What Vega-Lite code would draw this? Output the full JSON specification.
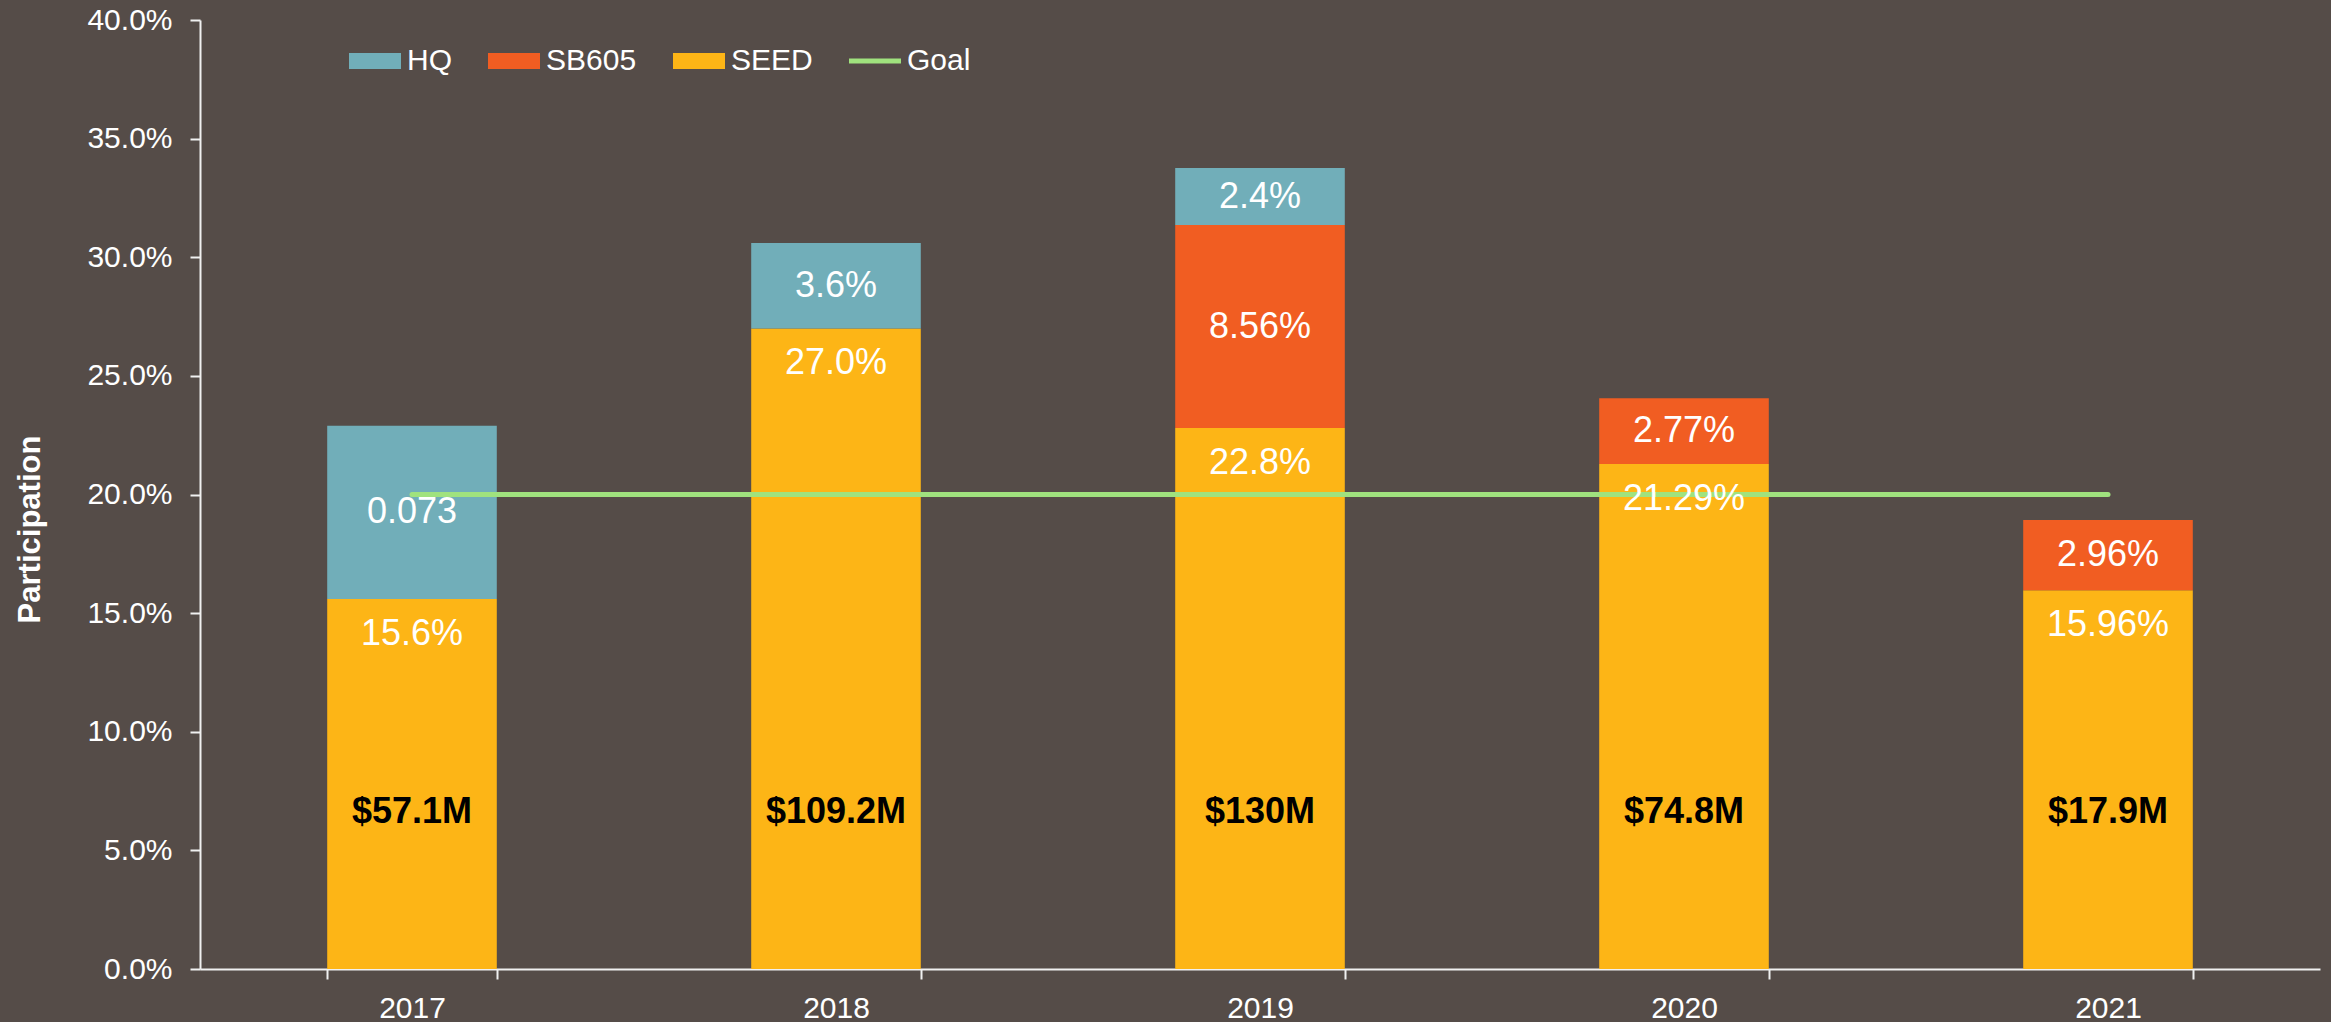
{
  "$schema": "https://vega.github.io/schema/vega-lite/v6.json",
  "autosize": {"type": "none"},
  "padding": {"left": 200, "top": 20, "right": 11, "bottom": 53},
  "width": 2120,
  "height": 949,
  "background": "#554C48",
  "config": {
    "view": {"stroke": null},
    "font": "Liberation Sans",
    "axis": {"grid": false, "domainColor": "#F0F0F0", "tickColor": "#F0F0F0", "domainWidth": 2, "tickWidth": 2, "labelColor": "#FFFFFF", "labelFontSize": 30, "labelFont": "Liberation Sans"}
  },
  "datasets": {
    "segments": [
      {"year": "2017", "series": "SEED", "value": 0.156, "label": "15.6%"},
      {"year": "2017", "series": "HQ", "value": 0.073, "label": "0.073"},
      {"year": "2018", "series": "SEED", "value": 0.270, "label": "27.0%"},
      {"year": "2018", "series": "HQ", "value": 0.036, "label": "3.6%"},
      {"year": "2019", "series": "SEED", "value": 0.228, "label": "22.8%"},
      {"year": "2019", "series": "SB605", "value": 0.0856, "label": "8.56%"},
      {"year": "2019", "series": "HQ", "value": 0.024, "label": "2.4%"},
      {"year": "2020", "series": "SEED", "value": 0.2129, "label": "21.29%"},
      {"year": "2020", "series": "SB605", "value": 0.0277, "label": "2.77%"},
      {"year": "2021", "series": "SEED", "value": 0.1596, "label": "15.96%"},
      {"year": "2021", "series": "SB605", "value": 0.0296, "label": "2.96%"}
    ],
    "funding": [
      {"year": "2017", "amount": "$57.1M"},
      {"year": "2018", "amount": "$109.2M"},
      {"year": "2019", "amount": "$130M"},
      {"year": "2020", "amount": "$74.8M"},
      {"year": "2021", "amount": "$17.9M"}
    ],
    "goal": [
      {"year": "2017", "goal": 0.2},
      {"year": "2018", "goal": 0.2},
      {"year": "2019", "goal": 0.2},
      {"year": "2020", "goal": 0.2},
      {"year": "2021", "goal": 0.2}
    ]
  },
  "encoding": {
    "x": {
      "field": "year", "type": "ordinal",
      "scale": {"domain": ["2017", "2018", "2019", "2020", "2021"], "paddingInner": 0.6, "paddingOuter": 0.3},
      "axis": {"title": null, "labelAngle": 0, "tickBand": "extent", "tickSize": 10, "labelPadding": 14}
    }
  },
  "layer": [
    {
      "data": {"name": "segments"},
      "transform": [
        {"calculate": "indexof(['SEED','SB605','HQ'], datum.series)", "as": "ord"},
        {"stack": "value", "groupby": ["year"], "sort": [{"field": "ord", "order": "ascending"}], "as": ["v0", "v1"]}
      ],
      "mark": {"type": "bar"},
      "encoding": {
        "y": {
          "field": "v1", "type": "quantitative",
          "scale": {"domain": [0, 0.4], "nice": false, "zero": true},
          "axis": {
            "values": [0, 0.05, 0.1, 0.15, 0.2, 0.25, 0.3, 0.35, 0.4],
            "format": ".1%", "tickSize": 10, "labelPadding": 18,
            "title": "Participation", "titleColor": "#FFFFFF", "titleFontSize": 31, "titleFontWeight": "bold",
            "titleAngle": -90, "titleAlign": "center", "titleBaseline": "middle", "titleX": -170, "titleY": 509
          }
        },
        "y2": {"field": "v0"},
        "color": {
          "field": "series", "type": "nominal",
          "scale": {"domain": ["HQ", "SB605", "SEED", "Goal"], "range": ["#71AEB9", "#F15D22", "#FDB516", "#A0E27E"]},
          "legend": {
            "title": null, "orient": "none", "direction": "horizontal", "columns": 4,
            "legendX": 149, "legendY": 15,
            "labelColor": "#FFFFFF", "labelFontSize": 30, "labelOffset": 6, "columnPadding": 36,
            "symbolSize": 2704,
            "encode": {
              "symbols": {
                "update": {
                  "shape": {"signal": "datum.label === 'Goal' ? 'M-1,-0.1H1V0.1H-1Z' : 'M-1,-0.3077H1V0.3077H-1Z'"},
                  "fill": {"signal": "scale('color', datum.value)"},
                  "strokeWidth": {"value": 0},
                  "opacity": {"value": 1}
                }
              }
            }
          }
        }
      }
    },
    {
      "data": {"name": "goal"},
      "mark": {"type": "line", "strokeWidth": 5, "strokeCap": "round"},
      "encoding": {
        "y": {"field": "goal", "type": "quantitative"},
        "color": {"datum": "Goal"}
      }
    },
    {
      "data": {"name": "segments"},
      "transform": [
        {"calculate": "indexof(['SEED','SB605','HQ'], datum.series)", "as": "ord"},
        {"stack": "value", "groupby": ["year"], "sort": [{"field": "ord", "order": "ascending"}], "as": ["v0", "v1"]},
        {"filter": "datum.series === 'SEED'"}
      ],
      "mark": {"type": "text", "color": "#FFFFFF", "fontSize": 36, "baseline": "middle", "dy": 35},
      "encoding": {
        "y": {"field": "v1", "type": "quantitative"},
        "text": {"field": "label"}
      }
    },
    {
      "data": {"name": "segments"},
      "transform": [
        {"calculate": "indexof(['SEED','SB605','HQ'], datum.series)", "as": "ord"},
        {"stack": "value", "groupby": ["year"], "sort": [{"field": "ord", "order": "ascending"}], "as": ["v0", "v1"]},
        {"filter": "datum.series !== 'SEED'"},
        {"calculate": "(datum.v0 + datum.v1) / 2", "as": "vmid"}
      ],
      "mark": {"type": "text", "color": "#FFFFFF", "fontSize": 36, "baseline": "middle"},
      "encoding": {
        "y": {"field": "vmid", "type": "quantitative"},
        "text": {"field": "label"}
      }
    },
    {
      "data": {"name": "funding"},
      "mark": {"type": "text", "color": "#000000", "fontSize": 36, "fontWeight": "bold", "baseline": "middle"},
      "encoding": {
        "y": {"datum": 0.066},
        "text": {"field": "amount"}
      }
    }
  ]
}
